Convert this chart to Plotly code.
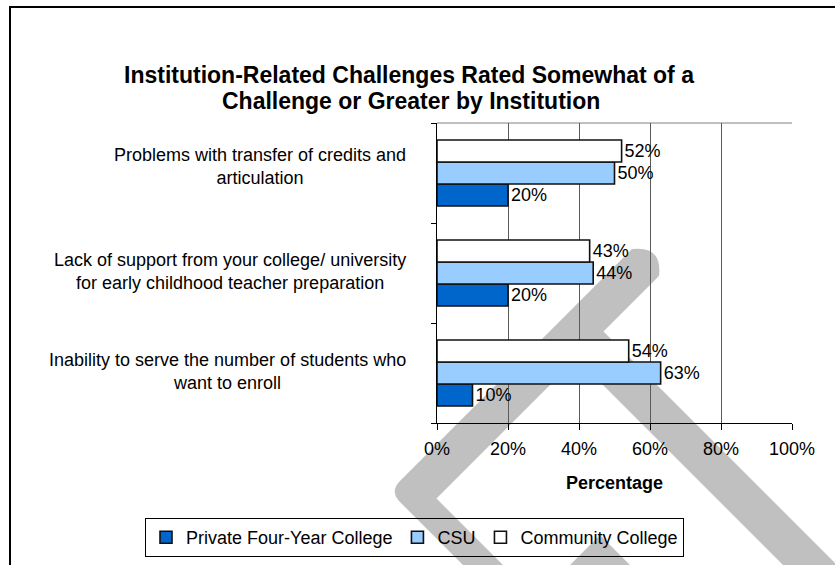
import plotly.graph_objects as go

# ---- data -----------------------------------------------------------------
categories = [
    "Inability to serve the number of students who<br>want to enroll",
    "Lack of support from your college/ university<br>for early childhood teacher preparation",
    "Problems with transfer of credits and<br>articulation",
]
series_names = ["Private Four-Year College", "CSU", "Community College"]
private_four_year = [10, 20, 20]
csu = [63, 44, 50]
community_college = [54, 43, 52]
x_ticks = [0, 20, 40, 60, 80, 100]
x_tick_labels = ["0%", "20%", "40%", "60%", "80%", "100%"]

title_lines = ["Institution-Related Challenges Rated Somewhat of a",
               "Challenge or Greater by Institution"]

# ---- geometry helpers (page pixels -> paper coordinates) -------------------
W, H = 835, 565
PL, PR, PT, PB = 437, 792, 123, 423


def px(x):
    return (x - PL) / (PR - PL)


def py(y):
    return (PB - y) / (PB - PT)


FONT = "Liberation Sans, Arial, sans-serif"
FS = 18
fills = ["#0066CC", "#99CCFF", "#FFFFFF"]

fig = go.Figure()
for name, vals, col in zip(series_names, [private_four_year, csu, community_college], fills):
    fig.add_trace(go.Bar(
        y=categories, x=vals, name=name, orientation="h",
        marker=dict(color=col, line=dict(color="#111111", width=1.6)),
        text=[f"{v}%" for v in vals], textposition="outside",
        textfont=dict(family=FONT, size=FS, color="#000000"),
        constraintext="none", cliponaxis=False,
    ))

# grey background band graphic
def pt(x, y):
    return f"{px(x):.5f},{py(y):.5f}"

band = ("M" + pt(632, 249) + " Q" + pt(662.5, 245.5) + " " + pt(659, 276)
        + " L" + pt(603.5, 331.5) + " L" + pt(875, 603) + " L" + pt(821, 603)
        + " L" + pt(576.5, 358.5) + " L" + pt(436.5, 498.5) + " L" + pt(541, 603)
        + " L" + pt(501, 603) + " L" + pt(400, 502)
        + " Q" + pt(389.5, 491.5) + " " + pt(400, 481) + " Z")
peak = "M" + pt(600, 535) + " L" + pt(668, 603) + " L" + pt(532, 603) + " Z"

shapes = [
    dict(type="path", path=band, xref="paper", yref="paper", layer="below",
         fillcolor="#C0C0C0", line=dict(width=0)),
    dict(type="path", path=peak, xref="paper", yref="paper", layer="below",
         fillcolor="#C0C0C0", line=dict(width=0)),
    # plot-area top edge
    dict(type="line", xref="paper", yref="paper", x0=0, x1=1, y0=1, y1=1,
         line=dict(color="#808080", width=1), layer="below"),
    # outer chart frame
    dict(type="rect", xref="paper", yref="paper", x0=px(10), x1=px(860),
         y0=py(7), y1=py(590), line=dict(color="#000000", width=2),
         fillcolor="rgba(0,0,0,0)", layer="below"),
]

annotations = [
    dict(text=f"<b>{title_lines[0]}</b>", xref="paper", yref="paper",
         x=px(409), y=py(75), xanchor="center", yanchor="middle",
         showarrow=False, font=dict(family=FONT, size=23, color="#000000")),
    dict(text=f"<b>{title_lines[1]}</b>", xref="paper", yref="paper",
         x=px(411), y=py(101), xanchor="center", yanchor="middle",
         showarrow=False, font=dict(family=FONT, size=23, color="#000000")),
    dict(text="<b>Percentage</b>", xref="paper", yref="paper",
         x=px(614.5), y=py(483), xanchor="center", yanchor="middle",
         showarrow=False, font=dict(family=FONT, size=FS, color="#000000")),
]
label_shift = [1.5, 1.5, 7]
for c, dy in zip(categories, label_shift):
    annotations.append(dict(text=c, xref="paper", yref="y", x=px(408), y=c,
                            xanchor="right", yanchor="middle", align="center",
                            yshift=dy, showarrow=False,
                            font=dict(family=FONT, size=FS, color="#000000")))

fig.update_layout(
    width=W, height=H,
    margin=dict(l=PL, r=W - PR, t=PT, b=H - PB, autoexpand=False),
    paper_bgcolor="#FFFFFF", plot_bgcolor="rgba(0,0,0,0)",
    barmode="group", bargap=0.34, bargroupgap=0,
    font=dict(family=FONT, size=FS, color="#000000"),
    showlegend=True,
    legend=dict(orientation="h", x=px(145), xanchor="left", y=py(518), yanchor="top",
                bgcolor="rgba(0,0,0,0)", bordercolor="#000000", borderwidth=1,
                font=dict(family=FONT, size=FS, color="#000000"),
                traceorder="normal", itemclick=False),
    shapes=shapes, annotations=annotations,
)
fig.update_xaxes(range=[0, 100], tickvals=x_ticks, ticktext=x_tick_labels,
                 showgrid=True, gridcolor="#5a5a5a", gridwidth=1,
                 showline=True, linecolor="#000000", linewidth=1,
                 ticks="outside", ticklen=6, tickcolor="#000000",
                 ticklabelstandoff=3, zeroline=False, fixedrange=True,
                 tickfont=dict(family=FONT, size=FS, color="#000000"))
fig.update_yaxes(categoryorder="array", categoryarray=categories,
                 showticklabels=False, showgrid=False,
                 showline=True, linecolor="#000000", linewidth=1,
                 ticks="outside", ticklen=5, tickcolor="#000000",
                 tickson="boundaries", fixedrange=True)

fig.write_html("out.html", config={"displayModeBar": False})
